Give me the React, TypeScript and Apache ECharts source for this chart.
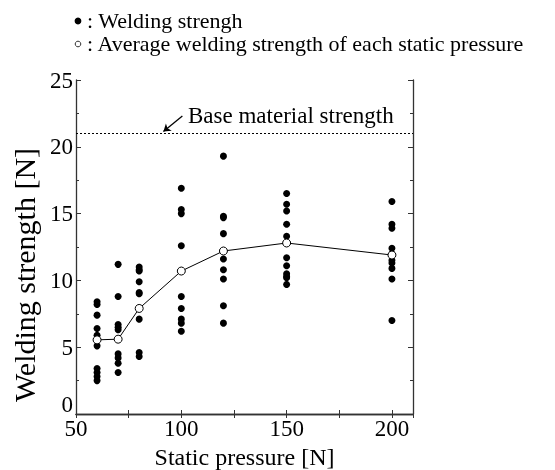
import React, { useEffect, useRef } from "react";
import * as echarts from "echarts";

const pressures = [60, 70, 80, 100, 120, 150, 200];
const strength60 = [8.4, 8.2, 7.4, 6.4, 5.9, 5.1, 3.4, 3.1, 2.8, 2.5];
const strength70 = [11.2, 8.8, 6.7, 6.5, 6.3, 4.5, 4.2, 3.8, 3.1];
const strength80 = [11.0, 10.8, 10.7, 9.9, 9.1, 9.0, 7.1, 4.6, 4.3];
const strength100 = [16.9, 15.3, 15.0, 12.6, 8.8, 7.9, 7.1, 6.8, 6.2];
const strength120 = [19.3, 14.8, 14.7, 13.5, 11.6, 10.8, 10.1, 8.1, 6.8];
const strength150 = [16.5, 15.7, 15.2, 14.2, 13.3, 11.7, 11.1, 10.5, 10.3, 10.2, 9.7];
const strength200 = [15.9, 14.2, 13.9, 12.4, 12.0, 11.5, 11.3, 10.9, 10.1, 7.0];
const averages = [5.55, 5.6, 7.9, 10.7, 12.2, 12.8, 11.9];
const baseStrength = 21;
const arrowStart = [100.5, 22.3];
const arrowEnd = [91.5, 21.15];
const xLabels = [50, 100, 150, 200];
const yMinLabel = "0";

const allStrengths = [strength60, strength70, strength80, strength100, strength120, strength150, strength200];

const FONT = "'Liberation Serif', 'Times New Roman', serif";

export default function App() {
  const ref = useRef<HTMLDivElement>(null);
  useEffect(() => {
    if (!ref.current) return;
    const chart = echarts.init(ref.current, null, { renderer: "svg" });
    const points: number[][] = [];
    pressures.forEach((p, i) => {
      allStrengths[i].forEach((v) => points.push([p, v]));
    });
    const avgData = pressures.map((p, i) => [p, averages[i]]);

    const axisLine = { show: true, lineStyle: { color: "#333", width: 1.3 } };
    const xCommon = {
      type: "value" as const,
      min: 50,
      max: 210,
      interval: 25,
      axisLine,
      splitLine: { show: false },
      axisTick: { show: true, inside: true, length: 4, lineStyle: { color: "#333" } },
    };
    const yCommon = {
      type: "value" as const,
      min: 0,
      max: 25,
      interval: 5,
      axisLine,
      splitLine: { show: false },
      axisTick: { show: true, inside: true, length: 5, lineStyle: { color: "#333" } },
      minorTick: { show: true, splitNumber: 2, length: 3, lineStyle: { color: "#333" } },
      minorSplitLine: { show: false },
    };

    chart.setOption({
      animation: false,
      grid: { left: 76, top: 80, right: 142, bottom: 56, containLabel: false, outerBoundsMode: "none" },
      xAxis: [
        {
          ...xCommon,
          position: "bottom",
          name: "Static pressure [N]",
          nameLocation: "middle",
          nameGap: 25,
          nameTextStyle: { fontFamily: FONT, fontSize: 24, color: "#000" },
          axisLabel: {
            show: true,
            margin: 3,
            fontFamily: FONT,
            fontSize: 23,
            color: "#000",
            formatter: (v: number) => (xLabels.includes(v) ? String(v) : ""),
          },
        },
        { ...xCommon, position: "top", axisLabel: { show: false } },
      ],
      yAxis: [
        {
          ...yCommon,
          position: "left",
          name: "Welding strength [N]",
          nameLocation: "middle",
          nameGap: 36,
          nameTextStyle: { fontFamily: FONT, fontSize: 30, color: "#000", padding: [0, 56, 0, 0] },
          axisLabel: {
            show: true,
            margin: 3,
            fontFamily: FONT,
            fontSize: 23,
            color: "#000",
            showMinLabel: false,
          },
        },
        { ...yCommon, position: "right", axisLabel: { show: false } },
      ],
      series: [
        {
          type: "scatter",
          xAxisIndex: 0,
          yAxisIndex: 0,
          data: points,
          symbol: "circle",
          symbolSize: 7,
          itemStyle: { color: "#000", opacity: 1 },
          silent: true,
          z: 2,
          markLine: {
            silent: true,
            symbol: ["none", "none"],
            label: { show: false },
            data: [
              { yAxis: baseStrength, lineStyle: { type: [2, 2], color: "#000", width: 1 } },
              [
                { coord: arrowStart, symbol: "none" },
                { coord: arrowEnd, symbol: "arrow", symbolSize: 7 },
              ],
            ],
            lineStyle: { color: "#000", width: 1.3, type: "solid" },
          },
        },
        {
          type: "line",
          xAxisIndex: 0,
          yAxisIndex: 0,
          data: avgData,
          symbol: "circle",
          symbolSize: 8,
          showSymbol: true,
          itemStyle: { color: "#fff", borderColor: "#000", borderWidth: 1, opacity: 1 },
          lineStyle: { color: "#000", width: 1 },
          silent: true,
          z: 3,
        },
      ],
      graphic: [
        {
          type: "text",
          x: 73,
          y: 404,
          style: { text: yMinLabel, fontFamily: FONT, fontSize: 23, fill: "#000", align: "right", verticalAlign: "middle" },
        },
        { type: "circle", shape: { cx: 78, cy: 21, r: 3.4 }, style: { fill: "#000" } },
        {
          type: "text",
          x: 87,
          y: 20,
          style: { text: ": Welding strengh", fontFamily: FONT, fontSize: 22, fill: "#000", verticalAlign: "middle" },
        },
        { type: "circle", shape: { cx: 78, cy: 44, r: 2.8 }, style: { fill: "#fff", stroke: "#000", lineWidth: 0.8 } },
        {
          type: "text",
          x: 87,
          y: 43,
          style: {
            text: ": Average welding strength of each static pressure",
            fontFamily: FONT,
            fontSize: 22,
            fill: "#000",
            verticalAlign: "middle",
          },
        },
        {
          type: "text",
          x: 188,
          y: 115,
          style: { text: "Base material strength", fontFamily: FONT, fontSize: 23, fill: "#000", verticalAlign: "middle" },
        },
      ],
    });
    return () => chart.dispose();
  }, []);
  return <div ref={ref} style={{ position: "fixed", left: 0, top: 0, width: 555, height: 470 }} />;
}
